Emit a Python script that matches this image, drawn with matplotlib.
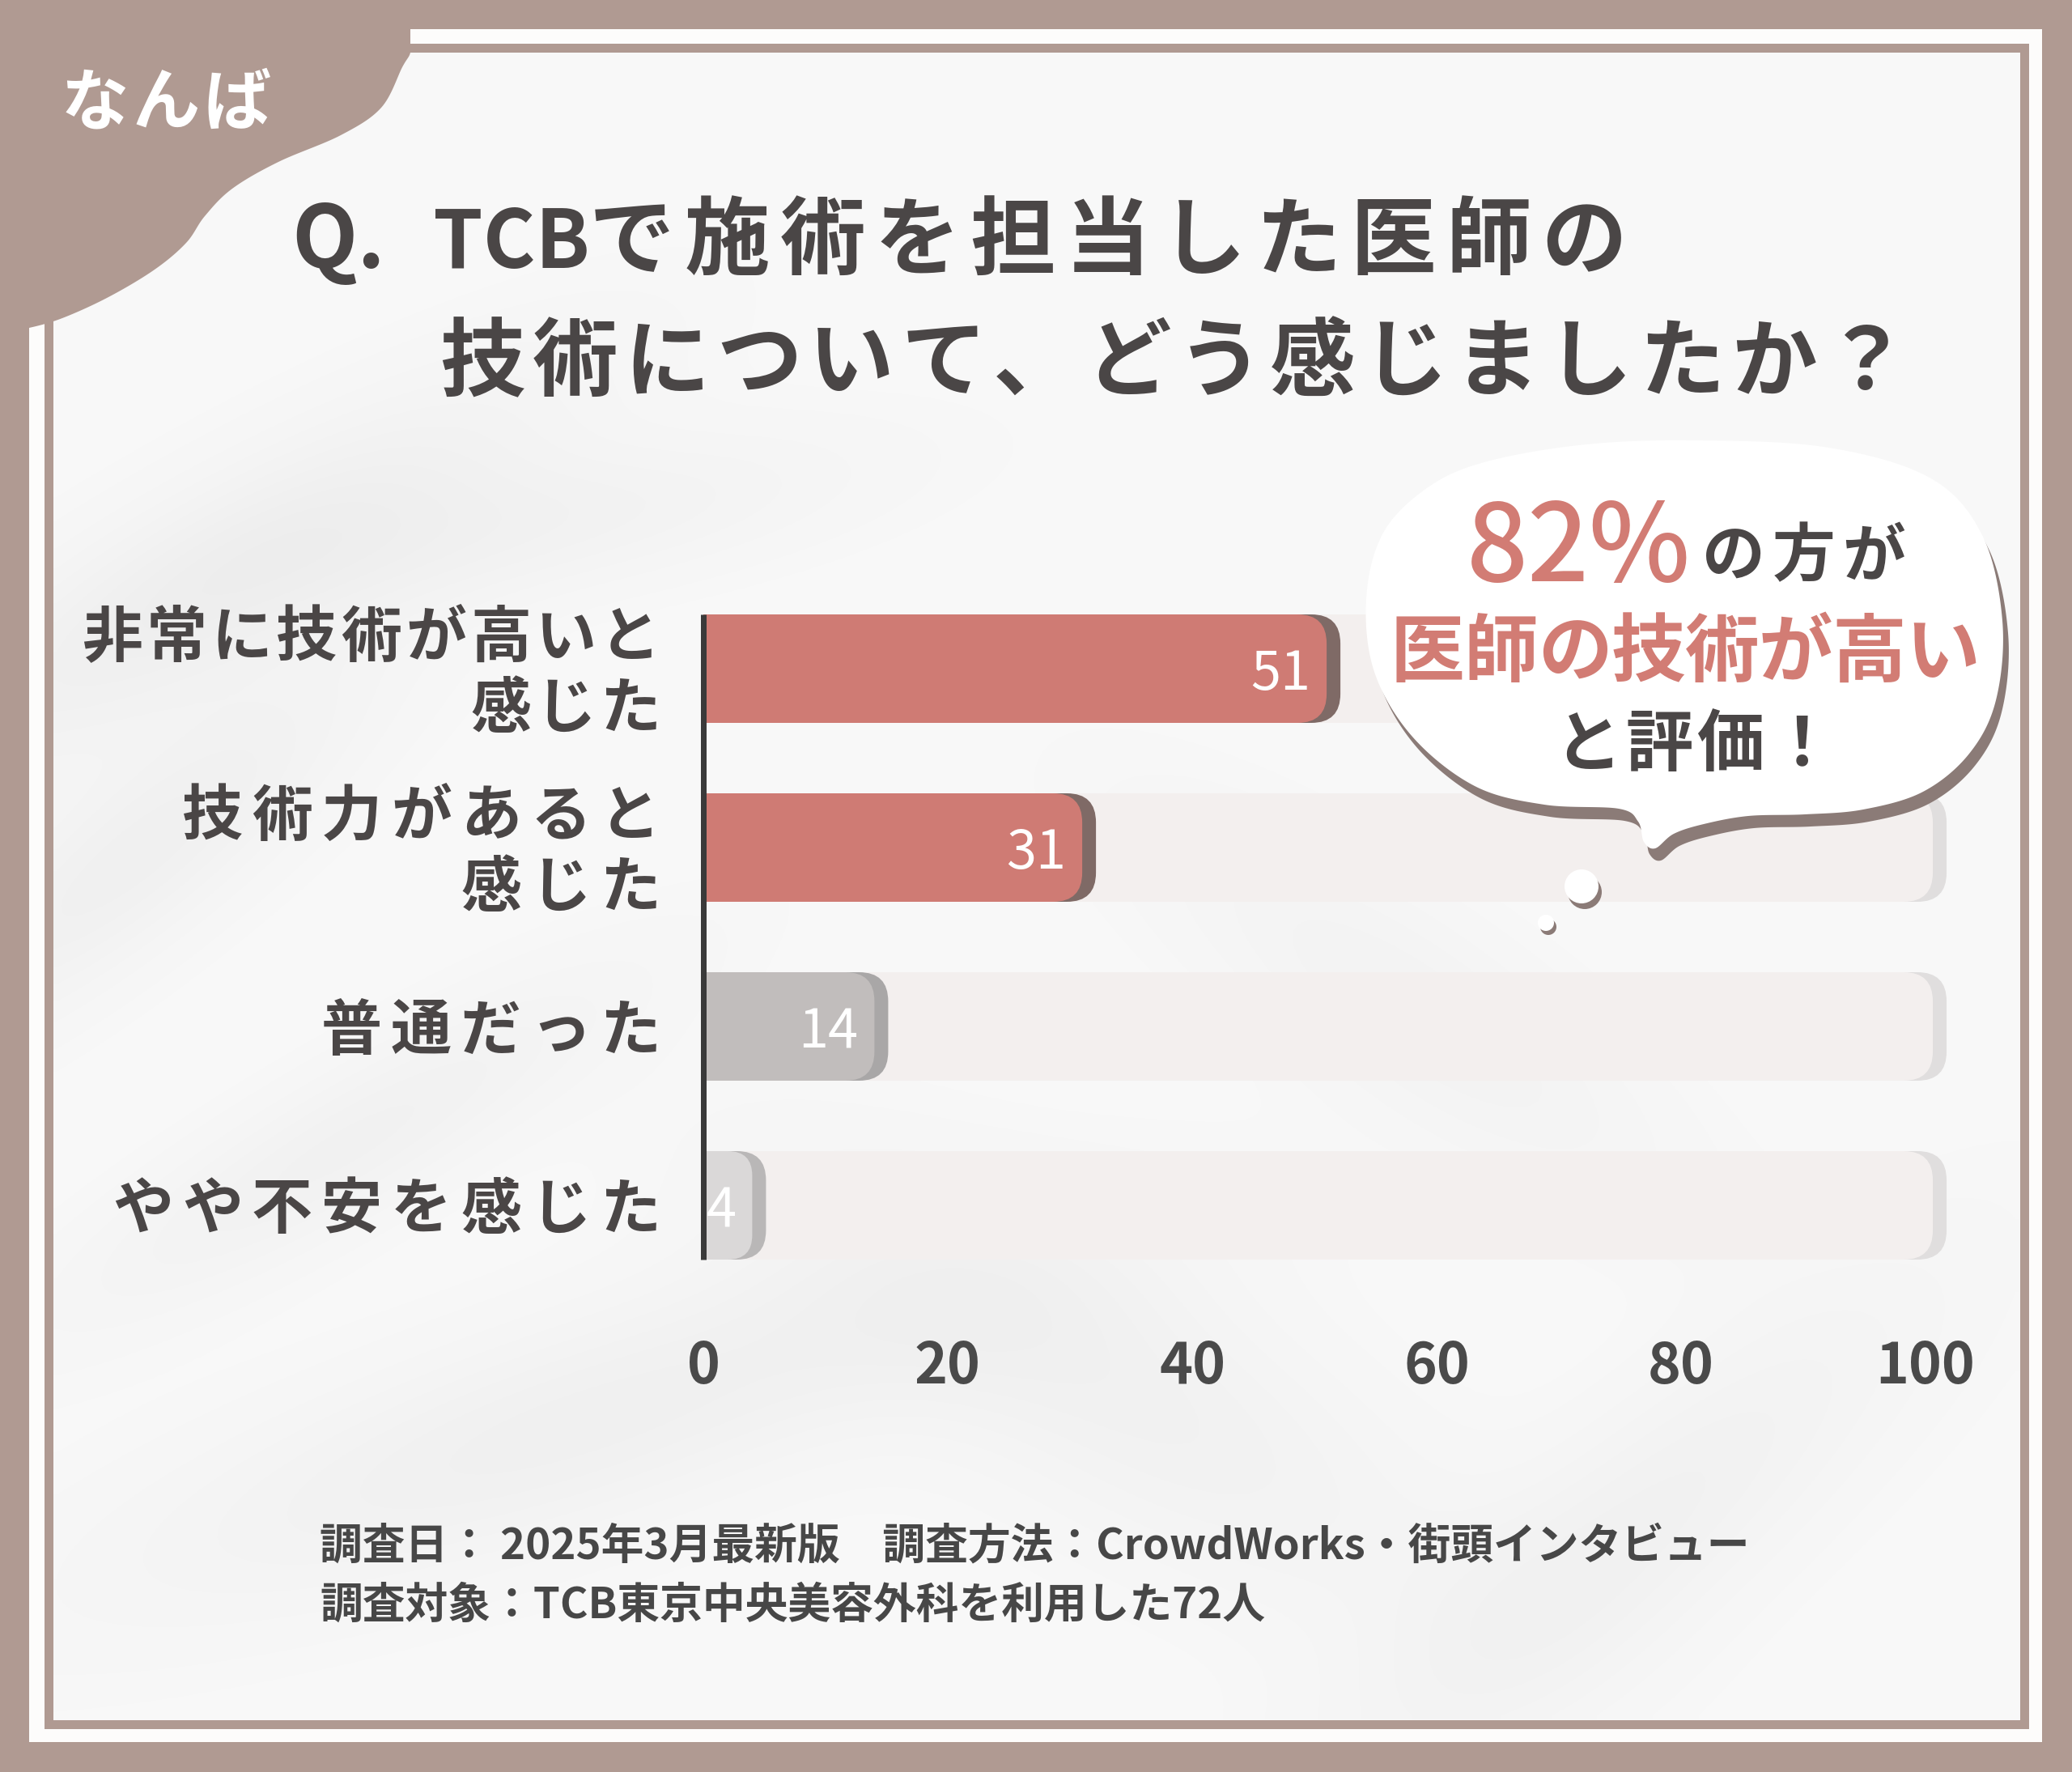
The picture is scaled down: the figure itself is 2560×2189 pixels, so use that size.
import numpy as np
import matplotlib
matplotlib.use("Agg")
import matplotlib.pyplot as plt
from matplotlib.patches import FancyBboxPatch, Rectangle, Circle, Polygon

# ---------------- data ----------------
categories = [["非常に技術が高いと", "感じた"],
              ["技術力があると", "感じた"],
              ["普通だった"],
              ["やや不安を感じた"]]
values = [51, 31, 14, 4]
xticks = [0, 20, 40, 60, 80, 100]
bar_colors = ["#cf7b74", "#cf7b74", "#c1bdbc", "#dad8d8"]
shadow_colors = ["#7f6a66", "#7f6a66", "#a9a7a7", "#b9b7b7"]

badge = "なんば"
title_q = "Q."
title_latin = "TCB"
title_l1 = "で施術を担当した医師の"
title_l2 = "技術について、どう感じましたか？"
bubble_pct = "82%"
bubble_a = "の方が"
bubble_b = "医師の技術が高い"
bubble_c = "と評価！"
footer1 = "調査日： 2025年3月最新版　調査方法：CrowdWorks・街頭インタビュー"
footer2 = "調査対象：TCB東京中央美容外科を利用した72人"

# ---------------- style ----------------
W, H, DPI = 2560, 2189, 100
BROWN = "#b09a92"
DARK = "#4a4646"
RED = "#d27c74"
FONT = ["Noto Sans CJK JP", "DejaVu Sans"]
NARROW = ["Liberation Sans Narrow", "Noto Sans CJK JP", "DejaVu Sans"]
PT = 72.0 / DPI  # points per pixel

fig = plt.figure(figsize=(W / DPI, H / DPI), dpi=DPI, facecolor=BROWN)

bg = fig.add_axes([0, 0, 1, 1], zorder=0)
bg.set_xlim(0, W); bg.set_ylim(H, 0); bg.axis("off")


def catmull(pts, n=24, closed=True):
    P = np.asarray(pts, float)
    if closed:
        P = np.vstack([P[-1], P, P[0], P[1]])
    out = []
    t = np.linspace(0, 1, n, endpoint=False)[:, None]
    for i in range(1, len(P) - 2):
        p0, p1, p2, p3 = P[i - 1], P[i], P[i + 1], P[i + 2]
        out.append(0.5 * ((2 * p1) + (-p0 + p2) * t + (2 * p0 - 5 * p1 + 4 * p2 - p3) * t ** 2
                          + (-p0 + 3 * p1 - 3 * p2 + p3) * t ** 3))
    return np.vstack(out)


def spaced(axx, s, x_left, yc, adv, size, color, weight="bold", z=5):
    em = size / PT
    for k, ch in enumerate(s):
        axx.text(x_left + (k + 0.5) * adv, yc + 0.38 * em, ch, ha="center", va="baseline",
                 fontsize=size, color=color, fontweight=weight, family=FONT, zorder=z)


# frame
bg.add_patch(Rectangle((36, 36), 2487, 2116, fc="#fdfcfb", ec="none", zorder=1))
bg.add_patch(Rectangle((59.5, 59), 2441, 2070.5, fc="#f8f8f8", ec="none", zorder=2))

# faint leaf-shadow texture on the inner paper
gx, gy = np.meshgrid(np.linspace(65, 2495, 243), np.linspace(65, 2124, 206))
shade = np.zeros_like(gx)
for cx, cy, sx, sy, ang, st in [(260, 720, 320, 80, -30, 0.07), (160, 1060, 260, 70, -38, 0.06),
                                (420, 1420, 280, 60, -30, 0.05), (720, 1760, 420, 90, -18, 0.06),
                                (1380, 1720, 320, 110, 30, 0.05), (2020, 1900, 320, 90, -40, 0.05),
                                (700, 640, 260, 60, -10, 0.04), (1750, 1250, 260, 80, 35, 0.04)]:
    a = np.deg2rad(ang)
    u = (gx - cx) * np.cos(a) + (gy - cy) * np.sin(a)
    v = -(gx - cx) * np.sin(a) + (gy - cy) * np.cos(a)
    shade += st * np.exp(-0.5 * ((u / sx) ** 2 + (v / sy) ** 2))
rgba = np.zeros(shade.shape + (4,))
rgba[..., :3] = 0.45
rgba[..., 3] = np.clip(shade, 0, 0.12)
bg.imshow(rgba, extent=(65, 2495, 2124, 65), interpolation="bilinear", zorder=2.2, aspect="auto")
bg.add_patch(Rectangle((59.5, 59), 2441, 2070.5, fc="none", ec=BROWN, lw=11 * PT, zorder=2.5))
bg.set_xlim(0, W); bg.set_ylim(H, 0)

# corner blob
blob_curve = [(507, 65), (497, 83), (471, 133), (421, 167), (344, 200), (287, 233),
              (253, 267), (230, 300), (191, 333), (134, 367), (77, 393), (36, 405)]
P = np.asarray(blob_curve, float)
Pe = np.vstack([P[0] + (0, -20), P, P[-1] + (-20, 2)])
curve = np.vstack([catmull(Pe, n=16, closed=False), P[-1][None, :]])
blob = np.vstack([[(0, 0), (507, 0)], curve, [(0, 405)]])
bg.add_patch(Polygon(blob, closed=True, fc=BROWN, ec="none", zorder=3))

spaced(bg, badge, 73, 122, 88, 60, "white", z=4)

# title
em_t = 76 / PT
bg.text(360, 291 + 0.38 * em_t, title_q, ha="left", va="baseline", fontsize=76,
        fontweight="bold", color=DARK, family=FONT, zorder=4)
bg.text(535, 291 + 0.38 * em_t, title_latin, ha="left", va="baseline", fontsize=71,
        fontweight="bold", color=DARK, family=FONT, zorder=4)
spaced(bg, title_l1, 722, 291, 117.6, 76, DARK, z=4)
spaced(bg, title_l2, 539, 441, 114, 76, DARK, z=4)

# footer
em_f = 38 / PT
bg.text(395, 1905 + 0.38 * em_f, footer1, ha="left", va="baseline", fontsize=38,
        fontweight="bold", color="#474747", family=FONT, zorder=4)
bg.text(395, 1979 + 0.38 * em_f, footer2, ha="left", va="baseline", fontsize=38,
        fontweight="bold", color="#474747", family=FONT, zorder=4)

# ---------------- chart ----------------
ax = fig.add_axes([869 / W, 1 - 1599.5 / H, 1510 / W, 884 / H], zorder=1)
ax.set_xlim(0, 100)
ax.set_ylim(len(values) - 0.5, -0.5)
ax.patch.set_alpha(0)
for s in ax.spines.values():
    s.set_visible(False)
ppx = ax.bbox.width / 100.0
ppy = ax.bbox.height / len(values)
BH = 134 / ppy


def rbar(x0, x1, y, color, z, r_px=36):
    w = x1 - x0
    r = min(r_px, w * ppx / 2, BH * ppy / 2)
    rx = r / ppx
    ax.add_patch(FancyBboxPatch((x0, y - BH / 2), w, BH,
                                boxstyle=f"round,pad=0,rounding_size={rx}",
                                mutation_aspect=ppx / ppy, fc=color, ec="none", zorder=z,
                                clip_on=False))
    ax.add_patch(Rectangle((x0, y - BH / 2), min(rx, w), BH, fc=color, ec="none", zorder=z,
                           clip_on=False))


dx = 17 / ppx
TRACK = 100.6
for i, v in enumerate(values):
    rbar(0, TRACK + dx, i, "#e0dede", 1)
    rbar(0, TRACK, i, "#f3efee", 2)
    rbar(0, v + dx, i, shadow_colors[i], 3)
    rbar(0, v, i, bar_colors[i], 4)
    ax.annotate(str(v), xy=(v, i), xytext=(-20 * PT, 0), textcoords="offset points",
                ha="right", va="center_baseline", fontsize=48, color="white",
                family=NARROW, zorder=6, annotation_clip=False)

ax.vlines(0, -BH / 2, len(values) - 1 + BH / 2, color="#3a3a3a", lw=7 * PT, zorder=7,
          clip_on=False)

ax.set_xticks(xticks)
ax.set_xticklabels([str(t) for t in xticks], fontsize=50, fontweight="bold",
                   color="#4a4a4a", family=NARROW)
ax.tick_params(axis="x", length=0, pad=54 * PT)
ax.set_yticks([])

# category labels (letter-spaced, right aligned at the axis)
label_adv = [80, 86, 86, 86]
lsize = 54
lem = lsize / PT
for i, lines in enumerate(categories):
    offs = [-44, 44] if len(lines) == 2 else [0]
    for line, dy in zip(lines, offs):
        L = len(line)
        for k, ch in enumerate(line):
            xc = -53 - lem / 2 - (L - 1 - k) * label_adv[i]
            ax.annotate(ch, xy=(0, i), xytext=(xc * PT, -(dy + 0.38 * lem) * PT),
                        textcoords="offset points", ha="center", va="baseline",
                        fontsize=lsize, fontweight="bold", color=DARK, family=FONT,
                        annotation_clip=False)

# ---------------- bubble ----------------
top = fig.add_axes([0, 0, 1, 1], zorder=2)
top.set_xlim(0, W); top.set_ylim(H, 0); top.axis("off")
top.patch.set_alpha(0)

bubble_pts = [(2082, 544), (2253, 552), (2384, 590), (2449, 661), (2474, 767), (2466, 865),
              (2433, 931), (2376, 978), (2302, 1000), (2230, 1006), (2160, 1008), (2105, 1018),
              (2068, 1030), (2045, 1048), (2031, 1040), (2024, 1015), (2000, 999), (1908, 994),
              (1822, 971), (1745, 910), (1698, 830), (1688, 740), (1708, 660), (1760, 605),
              (1830, 572), (1950, 550)]
bc = catmull(bubble_pts)
SH = "#8b7b77"
top.add_patch(Polygon(bc + np.array([7, 15]), closed=True, fc=SH, ec="none", zorder=1))
top.add_patch(Polygon(bc, closed=True, fc="white", ec="none", zorder=2))
top.add_patch(Circle((1958, 1102), 21, fc=SH, ec="none", zorder=1))
top.add_patch(Circle((1954, 1095), 21, fc="white", ec="none", zorder=2))
top.add_patch(Circle((1913, 1145), 10, fc=SH, ec="none", zorder=1))
top.add_patch(Circle((1910, 1140), 10, fc="white", ec="none", zorder=2))

top.text(1812, 718, bubble_pct, ha="left", va="baseline", fontsize=96, fontweight="medium",
         color=RED, family=FONT, zorder=3)
spaced(top, bubble_a, 2098, 682, 87, 56, DARK, z=3)
spaced(top, bubble_b, 1718, 800, 91, 66, RED, z=3)
spaced(top, bubble_c, 1918, 914, 88, 60, DARK, z=3)

fig.savefig("out.png", dpi=DPI, facecolor=BROWN)
